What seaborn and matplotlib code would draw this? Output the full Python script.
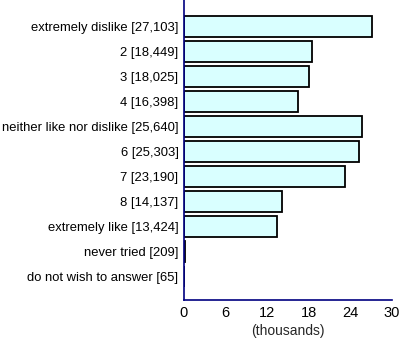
import matplotlib
matplotlib.use("Agg")
import matplotlib.pyplot as plt
import seaborn as sns
import pandas as pd

categories = [
    "extremely dislike", "2", "3", "4", "neither like nor dislike",
    "6", "7", "8", "extremely like", "never tried", "do not wish to answer",
]
counts = [27103, 18449, 18025, 16398, 25640, 25303, 23190, 14137, 13424, 209, 65]
x_ticks = [0, 6, 12, 18, 24, 30]

labels = [f"{c} [{n:,}]" for c, n in zip(categories, counts)]
df = pd.DataFrame({"label": labels, "thousands": [n / 1000 for n in counts]})

sns.set_theme(style="white")
plt.rcParams["font.family"] = ["Liberation Sans", "DejaVu Sans"]

navy = "#000080"
fig = plt.figure(figsize=(4.0, 3.42), dpi=100)
ax = fig.add_axes([0.46, 0.1228, 0.52, 0.877])

sns.barplot(data=df, x="thousands", y="label", orient="h", ax=ax,
            color="#D9FFFF", edgecolor="black", linewidth=1.3,
            width=0.84, saturation=1)

ax.set_xlim(0, 30)
ax.set_ylim(10.96, -1.04)
ax.set_xticks(x_ticks)
ax.set_xticklabels([str(t) for t in x_ticks])
ax.set_xlabel("(thousands)", fontsize=10, labelpad=3)
ax.set_ylabel("")

for side in ("top", "right"):
    ax.spines[side].set_visible(False)
for side in ("left", "bottom"):
    ax.spines[side].set_color(navy)
    ax.spines[side].set_linewidth(1.2)

ax.tick_params(axis="both", direction="out", length=3, width=1,
               color=navy, labelsize=9.4, pad=1, labelcolor="black")
ax.tick_params(axis="x", labelsize=10.5)

fig.savefig("out.png", dpi=100)
